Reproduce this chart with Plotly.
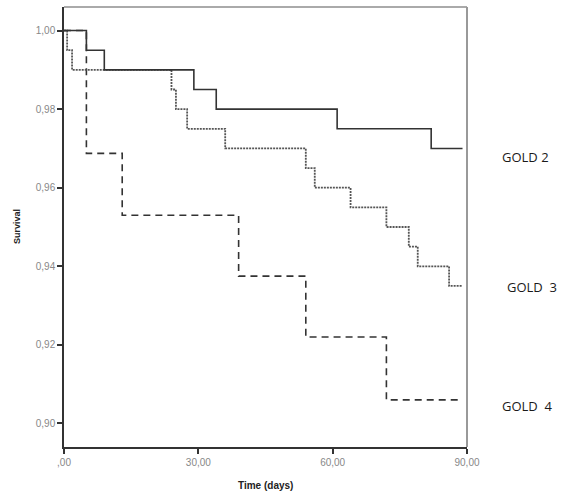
import plotly.graph_objects as go

# GOLD 2 (solid)
g2_time = [0, 5, 9, 29, 34, 61, 82, 89]
g2_surv = [1.000, 0.995, 0.990, 0.985, 0.980, 0.975, 0.970, 0.970]

# GOLD 3 (dotted)
g3_time = [0, 0.7, 1.8, 24, 25, 27.5, 36, 54, 56, 64, 72, 77, 79, 86, 89]
g3_surv = [1.000, 0.995, 0.990, 0.985, 0.980, 0.975, 0.970, 0.965, 0.960,
           0.955, 0.950, 0.945, 0.940, 0.935, 0.935]

# GOLD 4 (dashed)
g4_time = [0, 5, 13, 39, 54, 72, 88]
g4_surv = [1.000, 0.96875, 0.953, 0.9375, 0.922, 0.906, 0.906]

y_ticks = [0.90, 0.92, 0.94, 0.96, 0.98, 1.00]
y_ticktext = ["0,90", "0,92", "0,94", "0,96", "0,98", "1,00"]
x_ticks = [0, 30, 60, 90]
x_ticktext = [",00", "30,00", "60,00", "90,00"]

labels = ["GOLD 2", "GOLD  3", "GOLD  4"]
label_y = [157, 287, 406]
label_x = [500, 505, 500]

fig = go.Figure()
fig.add_trace(go.Scatter(x=g4_time, y=g4_surv, mode="lines", line_shape="hv",
                         line=dict(color="#333333", width=1.6, dash="7px,5px"),
                         showlegend=False, hoverinfo="skip"))
fig.add_trace(go.Scatter(x=g3_time, y=g3_surv, mode="lines", line_shape="hv",
                         line=dict(color="#555555", width=1.8, dash="2px,1px"),
                         showlegend=False, hoverinfo="skip"))
fig.add_trace(go.Scatter(x=g2_time, y=g2_surv, mode="lines", line_shape="hv",
                         line=dict(color="#333333", width=1.6),
                         showlegend=False, hoverinfo="skip"))

W, H = 586, 502
ml, mr, mt, mb = 64, 119, 7, 55

tickfont = dict(family="Liberation Sans, Arial", size=10, color="#888888")
fig.update_layout(
    width=W, height=H,
    margin=dict(l=ml, r=mr, t=mt, b=mb),
    paper_bgcolor="white", plot_bgcolor="white",
    xaxis=dict(range=[0, 90], tickvals=x_ticks, ticktext=x_ticktext,
               showgrid=False, zeroline=False, showline=True,
               linecolor="#333333", linewidth=1.5, ticks="outside",
               ticklen=5, tickcolor="#333333", tickwidth=1.5,
               tickfont=tickfont),
    yaxis=dict(range=[0.894, 1.006], tickvals=y_ticks, ticktext=y_ticktext,
               showgrid=False, zeroline=False, showline=True,
               linecolor="#333333", linewidth=1.5, ticks="outside",
               ticklen=5, tickcolor="#333333", tickwidth=1.5,
               tickfont=tickfont),
)

# gray frame on top and right
fig.add_shape(type="line", xref="paper", yref="paper", x0=0, x1=1, y0=1, y1=1,
              line=dict(color="#aaaaaa", width=2))
fig.add_shape(type="line", xref="paper", yref="paper", x0=1, x1=1, y0=0, y1=1,
              line=dict(color="#999999", width=2))

# axis titles
fig.add_annotation(text="<b>Time (days)</b>", xref="paper", yref="paper",
                   x=0.5, y=-(485 - (H - mb)) / (H - mt - mb), showarrow=False,
                   font=dict(family="Liberation Sans, Arial", size=10, color="#222222"),
                   xanchor="center", yanchor="middle")
fig.add_annotation(text="<b>Survival</b>", xref="paper", yref="paper",
                   x=-(ml - 17) / (W - ml - mr), y=0.5, showarrow=False, textangle=-90,
                   font=dict(family="Liberation Sans, Arial", size=9, color="#222222"),
                   xanchor="center", yanchor="middle")

pw = W - ml - mr
ph = H - mt - mb
for txt, lx, ly in zip(labels, label_x, label_y):
    fig.add_annotation(text=txt, xref="paper", yref="paper",
                       x=(lx - ml) / pw, y=1 - (ly - mt) / ph, showarrow=False,
                       xanchor="left", yanchor="middle",
                       font=dict(family="Open Sans, Lato", size=13, color="#1a1a1a"))

fig.write_html("out.html")
